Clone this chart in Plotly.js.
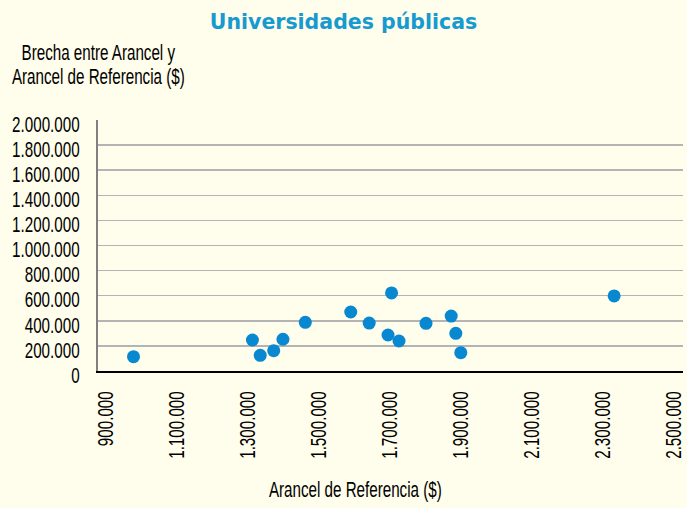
<!DOCTYPE html>
<html>
<head>
<meta charset="utf-8">
<script src="https://cdn.plot.ly/plotly-3.0.1.min.js"></script>
<style>
html,body{margin:0;padding:0;background:#fffdeb;}
#chart{width:687px;height:508px;}
</style>
</head>
<body>
<div id="chart"></div>
<script>
// Arancel de Referencia ($)
var arancelReferencia = [977000, 1312000, 1334000, 1372000, 1398000, 1461000, 1589000, 1641000, 1704000, 1694000, 1725000, 1801000, 1872000, 1885000, 1899000, 2331000];
// Brecha entre Arancel y Arancel de Referencia ($)
var brecha = [114000, 247000, 125000, 162000, 253000, 388000, 470000, 382000, 622000, 287000, 239000, 380000, 438000, 300000, 146000, 598000];
var xTicks = [900000, 1100000, 1300000, 1500000, 1700000, 1900000, 2100000, 2300000, 2500000];
var yTicks = [0, 200000, 400000, 600000, 800000, 1000000, 1200000, 1400000, 1600000, 1800000, 2000000];
var yTitleLines = ['Brecha entre Arancel y', 'Arancel de Referencia ($)'];
var xTitle = 'Arancel de Referencia ($)';

var labelFont = '"Liberation Sans", Arial, sans-serif';
var squeeze = 0.69;

var trace = {
  type: 'scatter',
  mode: 'markers',
  x: arancelReferencia,
  y: brecha,
  marker: {color: '#0788d0', size: 13},
  hoverinfo: 'x+y'
};

var txtFont = {family: labelFont, size: 22, color: '#000000'};

var layout = {
  width: 687,
  height: 508,
  separators: ',.',
  paper_bgcolor: '#fffdeb',
  plot_bgcolor: '#fffdeb',
  margin: {l: 98, r: 4, t: 120, b: 137, pad: 0},
  showlegend: false,
  title: {
    text: '<b>Universidades públicas</b>',
    font: {family: '"DejaVu Sans", Verdana, sans-serif', size: 20.5, color: '#169ad0'},
    x: 0.5, xanchor: 'center', y: 0.958, yanchor: 'middle'
  },
  xaxis: {
    range: [877000, 2525000],
    tickvals: xTicks,
    tickformat: ',d',
    tickangle: -90,
    ticks: '',
    showgrid: false,
    zeroline: false,
    showline: true,
    linecolor: '#000000',
    linewidth: 1.5,
    ticklabelstandoff: 10,
    tickfont: txtFont,
    automargin: false
  },
  yaxis: {
    range: [0, 2000000],
    tickvals: yTicks,
    tickformat: ',d',
    ticks: '',
    showgrid: true,
    gridcolor: '#b4b4b4',
    gridwidth: 1.5,
    zeroline: false,
    showline: true,
    linecolor: '#808080',
    linewidth: 2,
    tickfont: txtFont,
    ticklabelstandoff: 12,
    ticklabelshift: 4,
    automargin: false
  },
  annotations: [{
    text: yTitleLines[0],
    xref: 'paper', yref: 'paper',
    x: 0, y: 1.267,
    xanchor: 'center', yanchor: 'middle',
    showarrow: false,
    font: txtFont
  }, {
    text: yTitleLines[1],
    xref: 'paper', yref: 'paper',
    x: 0, y: 1.175,
    xanchor: 'center', yanchor: 'middle',
    showarrow: false,
    font: txtFont
  }, {
    text: xTitle,
    xref: 'paper', yref: 'paper',
    x: 0.441, y: -0.474,
    xanchor: 'center', yanchor: 'middle',
    showarrow: false,
    font: txtFont
  }]
};

function squeezeText(el, s, anchor) {
  var bb = el.getBBox();
  var cx = anchor === 'end' ? bb.x + bb.width : bb.x + bb.width / 2;
  var t = el.getAttribute('transform') || '';
  el.setAttribute('transform', t + ' translate(' + cx + ',0) scale(' + s + ',1) translate(' + (-cx) + ',0)');
}

Plotly.newPlot('chart', [trace], layout, {displayModeBar: false, staticPlot: true}).then(function (gd) {
  gd.querySelectorAll('.ytick text').forEach(function (el) { squeezeText(el, squeeze, 'end'); });
  gd.querySelectorAll('.xtick text').forEach(function (el) { squeezeText(el, squeeze, 'end'); });
  gd.querySelectorAll('.annotation-text').forEach(function (el) { squeezeText(el, squeeze, 'middle'); });
});
</script>
</body>
</html>
